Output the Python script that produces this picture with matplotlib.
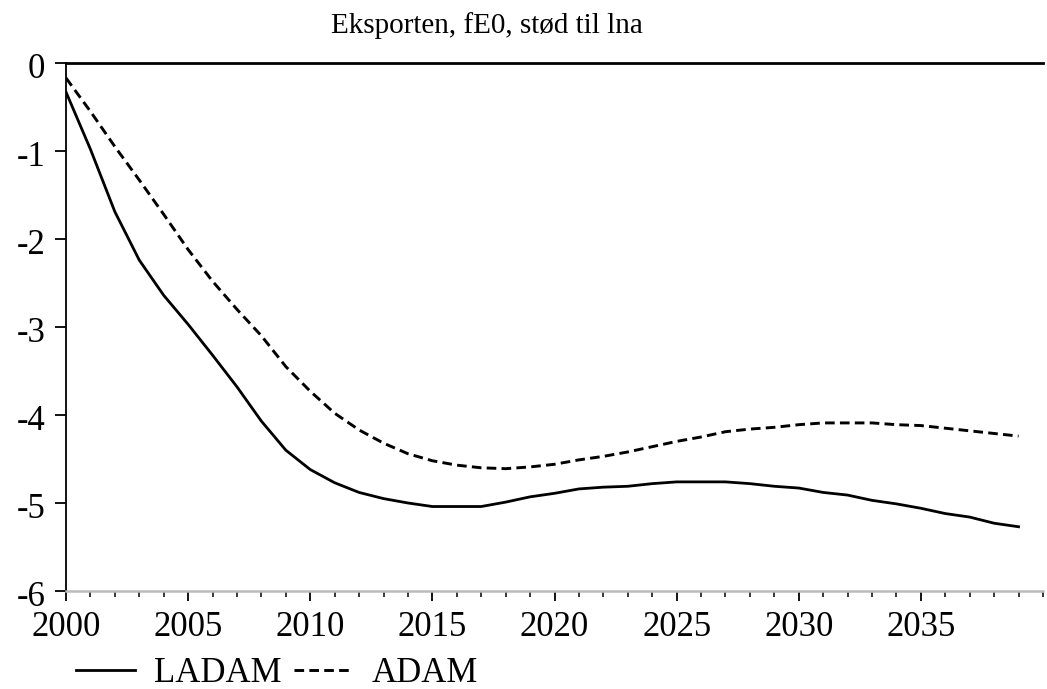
import matplotlib
matplotlib.use("Agg")
import matplotlib.pyplot as plt
import matplotlib.transforms as mtransforms
from matplotlib.ticker import MultipleLocator

plt.rcParams['font.family'] = ['Liberation Serif', 'DejaVu Serif']

years = list(range(2000, 2040))

ladam = [-0.33, -0.98, -1.69, -2.24, -2.64, -2.97, -3.32, -3.68, -4.07, -4.40,
         -4.62, -4.77, -4.88, -4.95, -5.00, -5.04, -5.04, -5.04, -4.99, -4.93,
         -4.89, -4.84, -4.82, -4.81, -4.78, -4.76, -4.76, -4.76, -4.78, -4.81,
         -4.83, -4.88, -4.91, -4.97, -5.01, -5.06, -5.12, -5.16, -5.23, -5.27]

adam = [-0.17, -0.55, -0.95, -1.33, -1.72, -2.12, -2.48, -2.80, -3.10, -3.45,
        -3.73, -3.98, -4.17, -4.32, -4.44, -4.52, -4.57, -4.60, -4.61, -4.59,
        -4.56, -4.51, -4.47, -4.42, -4.36, -4.30, -4.25, -4.19, -4.16, -4.14,
        -4.11, -4.09, -4.09, -4.09, -4.11, -4.12, -4.15, -4.18, -4.21, -4.24]

title = "Eksporten, fE0, stød til lna"
labels = ["LADAM", "ADAM"]
xticks = list(range(2000, 2040, 5))
yticks = [0, -1, -2, -3, -4, -5, -6]

fig = plt.figure(figsize=(10.47, 6.89), dpi=100)
ax = fig.add_axes([66 / 1047, 1 - 591 / 689, 977 / 1047, 528 / 689])

ax.plot(years, ladam, color='black', lw=2.0, label=labels[0])
ax.plot(years, adam, color='black', lw=2.1, linestyle=(0, (3.3, 1.8)), label=labels[1])

ax.set_xlim(2000, 2040)
ax.set_ylim(-6, 0)
ax.set_xticks(xticks)
ax.set_xticklabels([str(x) for x in xticks])
ax.xaxis.set_minor_locator(MultipleLocator(1))
ax.set_yticks(yticks)
ax.set_yticklabels([str(y) for y in yticks])

ax.spines['right'].set_visible(False)
ax.spines['top'].set_color('black')
ax.spines['top'].set_linewidth(2.0)
ax.spines['left'].set_linewidth(1.3)
ax.spines['bottom'].set_color('#bbbbbb')
ax.spines['bottom'].set_linewidth(1.8)

ax.tick_params(axis='x', which='major', length=7.5, width=1.3, labelsize=25, pad=7)
ax.tick_params(axis='x', which='minor', length=4.5, width=1.1)
ax.tick_params(axis='y', which='major', length=8, width=1.3, labelsize=25, pad=7)

# y labels sit a little below their ticks in the original
shift = mtransforms.ScaledTranslation(0, -6 / 100, fig.dpi_scale_trans)
for lbl in ax.get_yticklabels():
    lbl.set_verticalalignment('center')
    lbl.set_transform(lbl.get_transform() + shift)

fig.text(487 / 1047, 1 - 33 / 689, title, ha='center', va='baseline', fontsize=21)

fig.legend(loc='center left', bbox_to_anchor=(76 / 1047, 0.023), ncol=2, frameon=False,
           fontsize=25, borderpad=0, borderaxespad=0, handlelength=1.7,
           handletextpad=0.55, columnspacing=0.35)

fig.savefig('out.png', dpi=100)
